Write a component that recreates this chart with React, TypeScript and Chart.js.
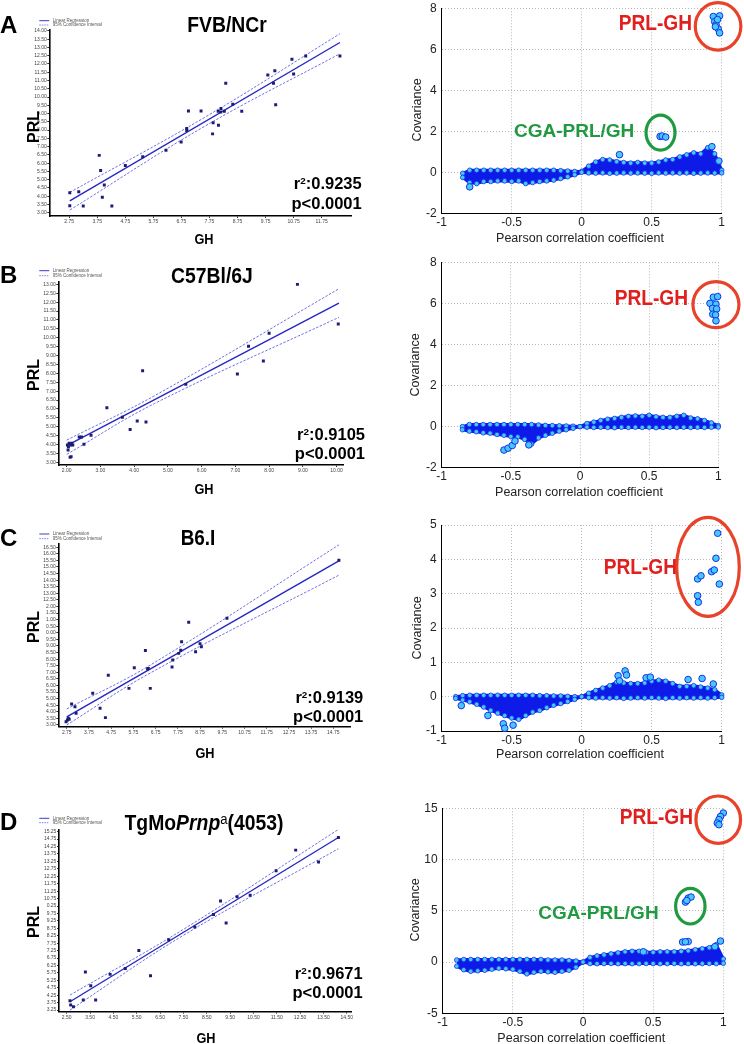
import React, { useEffect, useRef } from "react";
import { Chart, registerables } from "chart.js";

Chart.register(...registerables);

const FONT = "'Liberation Sans', Arial, Helvetica, sans-serif";
Chart.defaults.font.family = FONT;

// ================= LEFT COLUMN: PRL vs GH =================
// Panel A  FVB/NCr
const A_GH = [2.77, 2.77, 3.09, 3.25, 3.82, 3.87, 3.93, 4.0, 4.27, 4.75, 5.37, 6.2, 6.74, 6.94, 6.94, 7.0, 7.45, 7.86, 7.88, 8.06, 8.07, 8.15, 8.16, 8.28, 8.33, 8.58, 8.9, 9.83, 10.03, 10.08, 10.11, 10.69, 10.75, 11.18, 12.4];
const A_PRL = [4.21, 3.42, 4.27, 3.4, 6.47, 5.55, 3.93, 4.68, 3.4, 5.85, 6.39, 6.78, 7.28, 7.97, 8.09, 9.16, 9.16, 7.77, 8.45, 9.14, 8.29, 9.1, 9.3, 9.14, 10.84, 9.57, 9.14, 11.34, 10.84, 11.59, 9.53, 12.29, 11.4, 12.49, 12.49];
const A_REG_X = [2.77, 12.4];
const A_REG_Y = [3.71, 13.3];
const A_CI_X = [2.77, 7.6, 12.4];
const A_CI_UP = [4.23, 8.79, 13.83];
const A_CI_LO = [3.16, 8.25, 12.62];
const A_X_TICKS = [2.75, 3.75, 4.75, 5.75, 6.75, 7.75, 8.75, 9.75, 10.75, 11.75];
const A_Y_TICKS = [3, 3.5, 4, 4.5, 5, 5.5, 6, 6.5, 7, 7.5, 8, 8.5, 9, 9.5, 10, 10.5, 11, 11.5, 12, 12.5, 13, 13.5, 14];

// Panel B  C57Bl/6J
const B_GH = [2.02, 2.04, 2.05, 2.07, 2.1, 2.13, 2.12, 2.15, 2.18, 2.37, 2.44, 2.51, 2.72, 3.19, 3.65, 3.88, 4.09, 4.25, 4.35, 5.53, 7.06, 7.39, 7.83, 8.0, 8.84, 10.05];
const B_PRL = [3.97, 3.69, 3.88, 4.07, 3.28, 3.32, 3.97, 4.07, 3.97, 4.42, 4.42, 4.01, 4.52, 6.07, 5.53, 4.85, 5.32, 8.15, 5.27, 7.38, 7.96, 9.52, 8.69, 10.25, 13.0, 10.77];
const B_REG_X = [2.0, 10.07];
const B_REG_Y = [3.94, 11.95];
const B_CI_X = [2.0, 4.6, 10.07];
const B_CI_UP = [4.25, 6.74, 12.75];
const B_CI_LO = [3.45, 6.3, 11.15];
const B_X_TICKS = [2, 3, 4, 5, 6, 7, 8, 9, 10];
const B_Y_TICKS = [3, 3.5, 4, 4.5, 5, 5.5, 6, 6.5, 7, 7.5, 8, 8.5, 9, 9.5, 10, 10.5, 11, 11.5, 12, 12.5, 13];

// Panel C  B6.I
const C_GH = [2.72, 2.78, 2.82, 2.86, 2.97, 3.12, 3.17, 3.92, 4.25, 4.49, 4.62, 5.55, 5.79, 6.29, 6.39, 6.42, 6.51, 7.49, 7.52, 7.79, 7.88, 7.92, 8.24, 8.55, 8.75, 8.81, 9.96, 15.0];
const C_PRL = [3.25, 3.38, 3.51, 3.43, 4.59, 4.39, 3.89, 5.41, 4.27, 3.56, 6.77, 5.78, 7.35, 8.65, 7.25, 7.3, 5.78, 7.41, 7.94, 8.44, 8.67, 9.33, 10.8, 8.57, 9.18, 8.95, 11.1, 15.51];
const C_REG_X = [2.75, 15.0];
const C_REG_Y = [3.61, 15.46];
const C_CI_X = [2.75, 6.5, 15.0];
const C_CI_UP = [4.22, 7.54, 16.68];
const C_CI_LO = [3.0, 6.94, 14.38];
const C_X_TICKS = [2.75, 3.75, 4.75, 5.75, 6.75, 7.75, 8.75, 9.75, 10.75, 11.75, 12.75, 13.75, 14.75];
const C_Y_TICKS = [3, 3.5, 4, 4.5, 5, 5.5, 6, 6.5, 7, 7.5, 8, 8.5, 9, 9.5, 10, 10.5, 11, 11.5, 12, 12.5, 13, 13.5, 14, 14.5, 15, 15.5, 16, 16.5];
const C_Y_LABELS = ["3.00", "3.50", "4.00", "4.50", "5.00", "5.50", "6.00", "6.50", "7.00", "7.50", "8.00", "8.50", "9.00", "9.50", "0.00", "0.50", "1.00", "1.50", "2.00", "12.50", "13.00", "13.50", "14.00", "14.50", "15.00", "15.50", "16.00", "16.50"];

// Panel D  TgMoPrnp^a(4053)
const D_GH = [2.64, 2.67, 2.79, 3.21, 3.3, 3.53, 3.74, 4.36, 5.01, 5.59, 6.09, 6.87, 7.99, 8.79, 9.09, 9.33, 9.8, 10.36, 11.47, 12.31, 13.29, 14.14];
const D_PRL = [3.88, 3.59, 3.47, 3.92, 5.81, 4.89, 3.92, 5.65, 6.05, 7.26, 5.56, 7.98, 8.83, 9.68, 10.58, 9.1, 10.87, 10.98, 12.62, 14.01, 13.21, 14.86];
const D_REG_X = [2.64, 14.14];
const D_REG_Y = [3.81, 14.86];
const D_CI_X = [2.64, 7.5, 14.14];
const D_CI_UP = [4.26, 8.68, 15.4];
const D_CI_LO = [3.25, 8.28, 14.1];
const D_X_TICKS = [2.5, 3.5, 4.5, 5.5, 6.5, 7.5, 8.5, 9.5, 10.5, 11.5, 12.5, 13.5, 14.5];
const D_Y_TICKS = [3.25, 3.75, 4.25, 4.75, 5.25, 5.75, 6.25, 6.75, 7.25, 7.75, 8.25, 8.75, 9.25, 9.75, 10.25, 10.75, 11.25, 11.75, 12.25, 12.75, 13.25, 13.75, 14.25, 14.75, 15.25];
const D_Y_LABELS = ["3.25", "3.75", "4.25", "4.75", "5.25", "5.75", "6.25", "6.75", "7.25", "7.75", "8.25", "8.75", "9.25", "9.75", "0.25", "10.75", "11.25", "11.75", "12.25", "12.75", "13.25", "13.75", "14.25", "14.75", "15.25"];

// ================= RIGHT COLUMN: covariance vs Pearson r =================
const COR_GRID = [-0.9, -0.85, -0.8, -0.75, -0.7, -0.65, -0.6, -0.55, -0.5, -0.45, -0.4, -0.35, -0.3, -0.25, -0.2, -0.15, -0.1, -0.05, 0, 0.05, 0.1, 0.15, 0.2, 0.25, 0.3, 0.35, 0.4, 0.45, 0.5, 0.55, 0.6, 0.65, 0.7, 0.75, 0.8, 0.85, 0.9, 0.95, 1.0];

const A_COV_UP = [null, -0.05, 0.1, 0.1, 0.1, 0.1, 0.1, 0.1, 0.1, 0.1, 0.1, 0.1, 0.1, 0.1, 0.1, 0.08, 0.06, 0.04, 0.05, 0.3, 0.5, 0.62, 0.6, 0.52, 0.48, 0.45, 0.48, 0.45, 0.45, 0.5, 0.6, 0.62, 0.75, 0.85, 0.95, 0.9, 1.2, 0.9, 0.1];
const A_COV_LO = [null, -0.25, -0.5, -0.55, -0.45, -0.45, -0.42, -0.42, -0.45, -0.42, -0.55, -0.5, -0.45, -0.42, -0.38, -0.3, -0.22, -0.12, 0, -0.03, -0.04, -0.03, -0.05, -0.04, -0.03, -0.04, -0.03, -0.04, -0.05, -0.03, -0.04, -0.03, -0.04, -0.03, -0.05, -0.04, -0.03, -0.04, -0.03];
const A_HI_R = [0.94, 0.985, 0.95, 0.96, 0.975, 0.985, 0.97, 0.955, 0.56, 0.575, 0.6, -0.8, 0.27, 0.93, 0.98];
const A_HI_COV = [7.6, 7.63, 7.35, 7.2, 7.0, 6.8, 7.45, 7.1, 1.75, 1.77, 1.72, -0.71, 0.86, 1.25, 0.55];

const B_COV_UP = [null, 0.0, 0.1, 0.1, 0.1, 0.1, 0.1, 0.1, 0.1, 0.1, 0.1, 0.1, 0.08, 0.06, 0.05, 0.04, 0.03, 0.02, 0, 0.15, 0.22, 0.3, 0.36, 0.4, 0.45, 0.5, 0.52, 0.5, 0.55, 0.48, 0.45, 0.45, 0.5, 0.55, 0.42, 0.38, 0.3, 0.18, 0.05];
const B_COV_LO = [null, -0.15, -0.22, -0.25, -0.3, -0.32, -0.38, -0.42, -0.48, -0.5, -0.62, -0.85, -0.55, -0.42, -0.32, -0.22, -0.15, -0.08, 0, -0.03, -0.04, -0.03, -0.04, -0.05, -0.03, -0.04, -0.03, -0.04, -0.03, -0.05, -0.04, -0.03, -0.04, -0.03, -0.04, -0.03, -0.04, -0.03, -0.02];
const B_HI_R = [0.964, 0.995, 0.94, 0.983, 0.959, 0.988, 0.96, 0.98, 0.983, -0.55, -0.52, -0.49, -0.47, -0.37];
const B_HI_COV = [6.3, 6.33, 6.0, 5.96, 5.76, 5.73, 5.47, 5.44, 5.15, -1.14, -1.05, -0.92, -0.7, -0.89];

const C_COV_UP = [0.0, 0.03, 0.04, 0.04, 0.04, 0.04, 0.04, 0.04, 0.04, 0.04, 0.04, 0.04, 0.03, 0.03, 0.02, 0.02, 0.01, 0.0, 0, 0.1, 0.18, 0.25, 0.32, 0.42, 0.4, 0.38, 0.38, 0.4, 0.45, 0.48, 0.45, 0.38, 0.3, 0.3, 0.32, 0.28, 0.25, 0.2, 0.05];
const C_COV_LO = [-0.05, -0.1, -0.15, -0.22, -0.3, -0.4, -0.48, -0.55, -0.62, -0.66, -0.55, -0.45, -0.4, -0.32, -0.25, -0.2, -0.14, -0.08, 0, -0.03, -0.04, -0.03, -0.04, -0.03, -0.05, -0.04, -0.03, -0.04, -0.03, -0.04, -0.05, -0.03, -0.04, -0.03, -0.04, -0.03, -0.04, -0.03, -0.02];
const C_HI_R = [0.971, 0.959, 0.828, 0.852, 0.928, 0.947, 0.983, 0.828, 0.833, -0.86, -0.56, -0.55, -0.49, -0.67, 0.26, 0.31, 0.32, 0.27, 0.46, 0.49, 0.76, 0.86, 0.94];
const C_HI_COV = [4.76, 4.03, 3.43, 3.52, 3.64, 3.69, 3.28, 2.94, 2.75, -0.26, -0.79, -0.92, -0.83, -0.55, 0.61, 0.75, 0.63, 0.46, 0.55, 0.57, 0.5, 0.53, 0.37];

const D_COV_UP = [0.2, 0.25, 0.25, 0.25, 0.25, 0.25, 0.25, 0.25, 0.25, 0.25, 0.25, 0.25, 0.25, 0.2, 0.2, 0.2, 0.15, 0.1, 0, 0.45, 0.6, 0.7, 0.8, 0.9, 1.0, 1.05, 1.05, 0.95, 0.95, 1.0, 1.0, 1.0, 1.05, 1.1, 1.2, 1.3, 1.4, 1.7, 0.3];
const D_COV_LO = [-0.4, -0.75, -0.9, -0.85, -0.8, -0.7, -0.6, -0.65, -0.7, -0.9, -1.15, -1.0, -0.9, -0.95, -1.0, -0.9, -0.8, -0.5, 0, -0.15, -0.16, -0.15, -0.14, -0.16, -0.15, -0.16, -0.15, -0.14, -0.15, -0.16, -0.15, -0.14, -0.16, -0.15, -0.16, -0.15, -0.14, -0.15, -0.12];
const D_HI_R = [1.0, 0.98, 0.969, 0.957, 0.969, 0.75, 0.77, 0.73, 0.74, 0.71, 0.75, 0.73, 0.98, 0.94, 0.43];
const D_HI_COV = [14.54, 14.2, 13.9, 13.56, 13.4, 6.24, 6.34, 5.85, 6.0, 1.95, 2.0, 1.97, 2.05, 1.5, 1.0];

const R_X_TICKS = [-1, -0.5, 0, 0.5, 1];

// ================= styling =================
const PT_COLOR = "#1c1c78";
const REG_COLOR = "#2626c4";
const CI_COLOR = "#7070e0";
const CLOUD_BLUE = "rgb(14,26,232)";
const CYAN = "rgb(72,200,250)";
const EDGE = "rgb(20,50,230)";
const RED_TXT = "#e0201e";
const RED_RING = "#e8432a";
const GREEN = "#1f9a40";

const fmt2 = (v: number) => v.toFixed(2);

const LEFT = [
  { top: 0, h: 252, area: { l: 49.3, r: 351.7, t: 29.3, b: 216 }, xMin: 2.04, xMax: 12.82, yMin: 2.8, yMax: 14.1,
    gh: A_GH, prl: A_PRL, regX: A_REG_X, regY: A_REG_Y, ciX: A_CI_X, ciUp: A_CI_UP, ciLo: A_CI_LO,
    xTicks: A_X_TICKS, xLabels: A_X_TICKS.map(fmt2), yTicks: A_Y_TICKS, yLabels: A_Y_TICKS.map(fmt2), leg: [20.7, 25] },
  { top: 252, h: 253, area: { l: 58.3, r: 343.3, t: 29.7, b: 213 }, xMin: 1.75, xMax: 10.2, yMin: 2.85, yMax: 13.15,
    gh: B_GH, prl: B_PRL, regX: B_REG_X, regY: B_REG_Y, ciX: B_CI_X, ciUp: B_CI_UP, ciLo: B_CI_LO,
    xTicks: B_X_TICKS, xLabels: B_X_TICKS.map(fmt2), yTicks: B_Y_TICKS, yLabels: B_Y_TICKS.map(fmt2), leg: [18.7, 23.7] },
  { top: 505, h: 275, area: { l: 58.3, r: 350, t: 38.3, b: 221.7 }, xMin: 2.37, xMax: 15.5, yMin: 2.87, yMax: 16.8,
    gh: C_GH, prl: C_PRL, regX: C_REG_X, regY: C_REG_Y, ciX: C_CI_X, ciUp: C_CI_UP, ciLo: C_CI_LO,
    xTicks: C_X_TICKS, xLabels: C_X_TICKS.map(fmt2), yTicks: C_Y_TICKS, yLabels: C_Y_LABELS, leg: [29, 33.7] },
  { top: 780, h: 264, area: { l: 59, r: 351.7, t: 49.3, b: 231.7 }, xMin: 2.17, xMax: 14.71, yMin: 3.14, yMax: 15.41,
    gh: D_GH, prl: D_PRL, regX: D_REG_X, regY: D_REG_Y, ciX: D_CI_X, ciUp: D_CI_UP, ciLo: D_CI_LO,
    xTicks: D_X_TICKS, xLabels: D_X_TICKS.map(fmt2), yTicks: D_Y_TICKS, yLabels: D_Y_LABELS, leg: [38.3, 42.7] },
];

const RIGHT = [
  { top: 0, h: 252, area: { l: 71.7, r: 351.7, t: 8.3, b: 213.3 }, yMin: -2, yMax: 8, yTicks: [-2, 0, 2, 4, 6, 8],
    up: A_COV_UP, lo: A_COV_LO, hiR: A_HI_R, hiC: A_HI_COV,
    rings: [{ x: 0.974, y: 7.12, rx: 22.8, ry: 23.7, color: RED_RING }, { x: 0.563, y: 1.94, rx: 14.5, ry: 17.5, color: GREEN }] },
  { top: 252, h: 253, area: { l: 71.7, r: 348.3, t: 10.3, b: 215.7 }, yMin: -2, yMax: 8, yTicks: [-2, 0, 2, 4, 6, 8],
    up: B_COV_UP, lo: B_COV_LO, hiR: B_HI_R, hiC: B_HI_COV,
    rings: [{ x: 0.983, y: 5.94, rx: 23, ry: 23, color: RED_RING }] },
  { top: 505, h: 275, area: { l: 71.7, r: 351.7, t: 20, b: 226 }, yMin: -1, yMax: 5, yTicks: [-1, 0, 1, 2, 3, 4, 5],
    up: C_COV_UP, lo: C_COV_LO, hiR: C_HI_R, hiC: C_HI_COV,
    rings: [{ x: 0.902, y: 3.78, rx: 31.3, ry: 49.5, color: RED_RING }] },
  { top: 780, h: 264, area: { l: 72.7, r: 353.3, t: 28.3, b: 233.3 }, yMin: -5, yMax: 15, yTicks: [-5, 0, 5, 10, 15],
    up: D_COV_UP, lo: D_COV_LO, hiR: D_HI_R, hiC: D_HI_COV,
    rings: [{ x: 0.964, y: 13.89, rx: 22.3, ry: 23.7, color: RED_RING }, { x: 0.765, y: 5.45, rx: 14.7, ry: 17.8, color: GREEN }] },
];

const zeroPad = (s: any) => {
  s.paddingLeft = 0; s.paddingRight = 0; s.paddingTop = 0; s.paddingBottom = 0;
};

function miniLegend(y1: number, y2: number) {
  return {
    id: "miniLegend",
    afterDraw(chart: any) {
      const ctx = chart.ctx;
      ctx.save();
      ctx.lineWidth = 0.9;
      ctx.strokeStyle = REG_COLOR;
      ctx.beginPath(); ctx.moveTo(39.3, y1); ctx.lineTo(49.3, y1); ctx.stroke();
      ctx.strokeStyle = CI_COLOR;
      ctx.setLineDash([1.5, 1]);
      ctx.beginPath(); ctx.moveTo(39.3, y2); ctx.lineTo(49.3, y2); ctx.stroke();
      ctx.setLineDash([]);
      ctx.fillStyle = "#555";
      ctx.font = `4.5px ${FONT}`;
      ctx.textBaseline = "middle";
      ctx.fillText("Linear Regression", 52.7, y1);
      ctx.fillText("95% Confidence Interval", 52.7, y2);
      ctx.restore();
    },
  };
}

function ringsPlugin(rings: any[]) {
  return {
    id: "rings",
    afterDraw(chart: any) {
      const { ctx } = chart;
      const xs = chart.scales.x, ys = chart.scales.y;
      for (const r of rings) {
        ctx.save();
        ctx.beginPath();
        ctx.ellipse(xs.getPixelForValue(r.x), ys.getPixelForValue(r.y), r.rx, r.ry, 0, 0, Math.PI * 2);
        ctx.lineWidth = 3.2;
        ctx.strokeStyle = r.color;
        ctx.stroke();
        ctx.restore();
      }
    },
  };
}

function leftConfig(p: any, W: number, H: number) {
  const pts = (xs: number[], ys: number[]) => xs.map((x, i) => ({ x, y: ys[i] }));
  return {
    type: "scatter",
    data: {
      datasets: [
        { type: "scatter", data: pts(p.gh, p.prl), pointStyle: "rect", pointRadius: 2.1, backgroundColor: PT_COLOR, borderColor: PT_COLOR, borderWidth: 0, order: 0 },
        { type: "line", data: pts(p.regX, p.regY), borderColor: REG_COLOR, borderWidth: 1.4, pointRadius: 0, fill: false, order: 1 },
        { type: "line", data: pts(p.ciX, p.ciUp), borderColor: CI_COLOR, borderWidth: 1, borderDash: [2.5, 1.5], pointRadius: 0, tension: 0.4, fill: false, order: 2 },
        { type: "line", data: pts(p.ciX, p.ciLo), borderColor: CI_COLOR, borderWidth: 1, borderDash: [2.5, 1.5], pointRadius: 0, tension: 0.4, fill: false, order: 3 },
      ],
    },
    options: {
      responsive: false,
      animation: false,
      events: [],
      layout: { autoPadding: false, padding: { left: 0, top: p.area.t, right: W - p.area.r, bottom: 0 } },
      plugins: { legend: { display: false }, tooltip: { enabled: false } },
      scales: {
        x: {
          type: "linear", position: "bottom", min: p.xMin, max: p.xMax, bounds: "data",
          afterFit: (s: any) => { s.height = H - p.area.b; zeroPad(s); },
          afterBuildTicks: (s: any) => { s.ticks = p.xTicks.map((v: number) => ({ value: v })); },
          ticks: { autoSkip: false, maxRotation: 0, minRotation: 0, padding: 0.5, color: "#444", font: { size: 5 }, callback: (_v: any, i: number) => p.xLabels[i] },
          grid: { display: true, drawOnChartArea: false, drawTicks: true, tickLength: 2, tickColor: "#000", tickWidth: 0.8 },
          border: { display: true, color: "#000", width: 1.6 },
        },
        y: {
          type: "linear", position: "left", min: p.yMin, max: p.yMax, bounds: "data",
          afterFit: (s: any) => { s.width = p.area.l; zeroPad(s); },
          afterBuildTicks: (s: any) => { s.ticks = p.yTicks.map((v: number) => ({ value: v })); },
          ticks: { autoSkip: false, padding: 0.6, color: "#444", font: { size: 5 }, callback: (_v: any, i: number) => p.yLabels[i] },
          grid: { display: true, drawOnChartArea: false, drawTicks: true, tickLength: 2, tickColor: "#000", tickWidth: 0.8 },
          border: { display: true, color: "#000", width: 1.6 },
        },
      },
    },
    plugins: [miniLegend(p.leg[0], p.leg[1])],
  };
}

function rightConfig(p: any, W: number, H: number) {
  const env = (ys: (number | null)[]) => COR_GRID.map((x, i) => ({ x, y: ys[i] }));
  const envStyle = {
    borderColor: CLOUD_BLUE, borderWidth: 3, pointRadius: 2.3, pointBackgroundColor: CYAN,
    pointBorderColor: EDGE, pointBorderWidth: 0.8, clip: false,
  };
  return {
    type: "scatter",
    data: {
      datasets: [
        { type: "scatter", data: p.hiR.map((x: number, i: number) => ({ x, y: p.hiC[i] })), pointRadius: 3.3, backgroundColor: CYAN, borderColor: EDGE, borderWidth: 1, order: 0, clip: false },
        { type: "line", data: env(p.lo), fill: false, order: 1, ...envStyle },
        { type: "line", data: env(p.up), fill: "-1", backgroundColor: CLOUD_BLUE, order: 2, ...envStyle },
      ],
    },
    options: {
      responsive: false,
      animation: false,
      events: [],
      layout: { autoPadding: false, padding: { left: 0, top: p.area.t, right: W - p.area.r, bottom: 0 } },
      plugins: { legend: { display: false }, tooltip: { enabled: false } },
      scales: {
        x: {
          type: "linear", position: "bottom", min: -1, max: 1, bounds: "data",
          afterFit: (s: any) => { s.height = H - p.area.b; zeroPad(s); },
          afterBuildTicks: (s: any) => { s.ticks = R_X_TICKS.map((v) => ({ value: v })); },
          ticks: { autoSkip: false, maxRotation: 0, minRotation: 0, padding: 2, color: "#222", font: { size: 12 }, callback: (v: any) => String(v) },
          grid: { display: true, drawTicks: false, color: "#b8b8b8", lineWidth: 1 },
          border: { display: true, color: "#000", width: 1, dash: [1, 2] },
        },
        y: {
          type: "linear", position: "left", min: p.yMin, max: p.yMax, bounds: "data",
          afterFit: (s: any) => { s.width = p.area.l; zeroPad(s); },
          afterBuildTicks: (s: any) => { s.ticks = p.yTicks.map((v: number) => ({ value: v })); },
          ticks: { autoSkip: false, padding: 5, color: "#222", font: { size: 12 }, callback: (v: any) => String(v) },
          grid: { display: true, drawTicks: false, color: "#b8b8b8", lineWidth: 1 },
          border: { display: true, color: "#000", width: 1, dash: [1, 2] },
        },
      },
    },
    plugins: [ringsPlugin(p.rings)],
  };
}

function ChartBox({ x, y, w, h, make }: any) {
  const ref = useRef<HTMLCanvasElement | null>(null);
  useEffect(() => {
    const chart = new Chart(ref.current as HTMLCanvasElement, make(w, h) as any);
    return () => chart.destroy();
  }, []);
  return (
    <div style={{ position: "absolute", left: x, top: y, width: w, height: h }}>
      <canvas ref={ref} width={w} height={h} style={{ display: "block", width: w, height: h }} />
    </div>
  );
}

function Txt({ x, y, size, children, bold = false, color = "#000", align = "left", sx = 1 }: any) {
  const tx = align === "center" ? "translateX(-50%)" : align === "right" ? "translateX(-100%)" : "";
  const origin = align === "center" ? "50% 50%" : align === "right" ? "100% 50%" : "0 50%";
  return (
    <div
      style={{
        position: "absolute", left: x, top: y - 0.8465 * size, fontSize: size, lineHeight: `${size}px`,
        fontWeight: bold ? 700 : 400, color, whiteSpace: "nowrap", fontFamily: FONT,
        transform: `${tx} scaleX(${sx})`, transformOrigin: origin,
      }}
    >
      {children}
    </div>
  );
}

function VTxt({ cx, cy, size, children, bold = false, color = "#000" }: any) {
  return (
    <div
      style={{
        position: "absolute", left: cx, top: cy, fontSize: size, lineHeight: `${size}px`,
        fontWeight: bold ? 700 : 400, color, whiteSpace: "nowrap", fontFamily: FONT,
        transform: "translate(-50%, -50%) rotate(-90deg)",
      }}
    >
      {children}
    </div>
  );
}

const Sup = ({ children }: any) => (
  <span style={{ fontSize: "0.6em", position: "relative", top: "-0.5em" }}>{children}</span>
);

export default function App() {
  const letters = [["A", 33.3], ["B", 283.3], ["C", 546.7], ["D", 830]];
  const prlY = [127, 375, 626.7, 921.7];
  const ghPos = [[204, 243.5], [204, 493.3], [205, 757.7], [205.7, 1043]];
  const r2 = [
    { x: 361.7, b1: 189.3, b2: 209.3, v: "0.9235" },
    { x: 365, b1: 440, b2: 459, v: "0.9105" },
    { x: 363.3, b1: 703.3, b2: 722.3, v: "0.9139" },
    { x: 362.7, b1: 979.3, b2: 998.3, v: "0.9671" },
  ];
  const covPos = [[416.7, 110], [415, 365], [416.7, 628.3], [415.3, 910]];
  const pearsonPos = [[580, 242.3], [579, 496.7], [580, 759], [581.3, 1042.3]];
  const prlgh = [[692, 30.7], [688.3, 305.7], [676.7, 574.3], [693.3, 825]];
  return (
    <div style={{ position: "absolute", left: 0, top: 0, width: 744, height: 1044, background: "#fff", overflow: "hidden", fontFamily: FONT }}>
      {LEFT.map((p, i) => (
        <ChartBox key={"l" + i} x={0} y={p.top} w={370} h={p.h} make={(w: number, h: number) => leftConfig(p, w, h)} />
      ))}
      {RIGHT.map((p, i) => (
        <ChartBox key={"r" + i} x={370} y={p.top} w={374} h={p.h} make={(w: number, h: number) => rightConfig(p, w, h)} />
      ))}

      {letters.map(([l, b]) => (
        <Txt key={"L" + l} x={0} y={b} size={24} bold>{l}</Txt>
      ))}

      <Txt x={226.7} y={32.3} size={22} bold align="center" sx={0.88}>FVB/NCr</Txt>
      <Txt x={212} y={283.3} size={22} bold align="center" sx={0.88}>C57Bl/6J</Txt>
      <Txt x={198} y={546} size={22} bold align="center" sx={0.86}>B6.I</Txt>
      <Txt x={204} y={831} size={22} bold align="center" sx={0.88}>
        TgMo<i>Prnp</i><span style={{ fontSize: "0.68em", fontWeight: 400, position: "relative", top: "-0.45em" }}>a</span>(4053)
      </Txt>

      {prlY.map((cy, i) => (
        <VTxt key={"P" + i} cx={34.2} cy={cy} size={16} bold>PRL</VTxt>
      ))}
      {ghPos.map(([x, b], i) => (
        <Txt key={"G" + i} x={x} y={b} size={15} bold align="center" sx={0.85}>GH</Txt>
      ))}
      {r2.map((r, i) => (
        <React.Fragment key={"R" + i}>
          <Txt x={r.x} y={r.b1} size={16.5} bold align="right">r<Sup>2</Sup>:{r.v}</Txt>
          <Txt x={r.x} y={r.b2} size={16.5} bold align="right">p&lt;0.0001</Txt>
        </React.Fragment>
      ))}

      {covPos.map(([cx, cy], i) => (
        <VTxt key={"C" + i} cx={cx} cy={cy} size={12.5} color="#222">Covariance</VTxt>
      ))}
      {pearsonPos.map(([x, b], i) => (
        <Txt key={"X" + i} x={x} y={b} size={12.5} align="center" color="#222">Pearson correlation coefficient</Txt>
      ))}
      {prlgh.map(([x, b], i) => (
        <Txt key={"H" + i} x={x} y={b} size={22} bold align="right" sx={0.87} color={RED_TXT}>PRL-GH</Txt>
      ))}
      <Txt x={514} y={137.3} size={19} bold color={GREEN}>CGA-PRL/GH</Txt>
      <Txt x={538.3} y={919} size={19} bold color={GREEN}>CGA-PRL/GH</Txt>
    </div>
  );
}
